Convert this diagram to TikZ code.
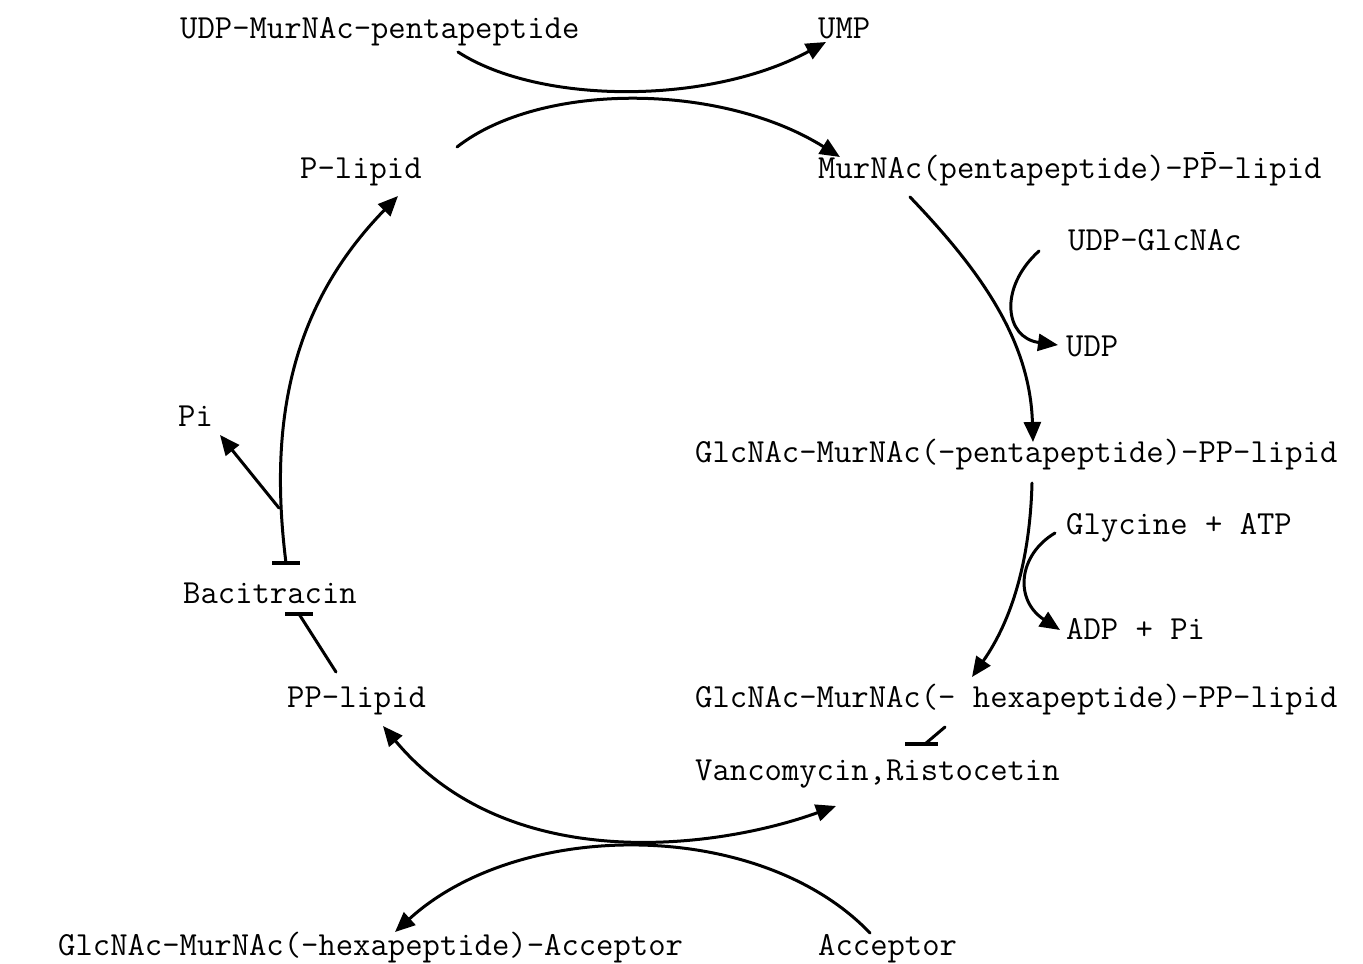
\documentclass[tikz,border=0pt]{standalone}
\usepackage{fontspec}
\usetikzlibrary{arrows.meta,calc}
\newcommand{\barP}{\rlap{\kern0.13em\raisebox{0.72em}{\rule{0.28em}{0.06em}}}P}
\begin{document}
\begin{tikzpicture}[x=1pt,y=-1pt,
  lbl/.style={anchor=base west,inner sep=0pt,font=\fontsize{33.7}{36}\selectfont\ttfamily},
  ln/.style={line width=3pt,line cap=round},
  rx/.style={ln,-{Triangle[length=20pt,width=17pt]}},
  rxx/.style={ln,{Triangle[length=20pt,width=17pt]}-{Triangle[length=20pt,width=17pt]}},
  barline/.style={line width=3.4pt}
]
\useasboundingbox (0,0) rectangle (1363,964);
% labels
\node[lbl] (udpm)  at (180,38)  {UDP-MurNAc-pentapeptide};
\node[lbl] (ump)   at (818,38)  {UMP};
\node[lbl] (plip)  at (300,178) {P-lipid};
\node[lbl] (murpp) at (818,178) {MurNAc(pentapeptide)-P\barP-lipid};
\node[lbl] (udpg)  at (1068,250) {UDP-GlcNAc};
\node[lbl] (udp)   at (1066,356) {UDP};
\node[lbl] (penta) at (695,462) {GlcNAc-MurNAc(-pentapeptide)-PP-lipid};
\node[lbl] (gly)   at (1066,534) {Glycine + ATP};
\node[lbl] (adp)   at (1066,639) {ADP + Pi};
\node[lbl] (hexa)  at (695,707) {GlcNAc-MurNAc(- hexapeptide)-PP-lipid};
\node[lbl] (vanc)  at (695,780) {Vancomycin,Ristocetin};
\node[lbl] (pi)    at (178,426) {Pi};
\node[lbl] (baci)  at (183,603) {Bacitracin};
\node[lbl] (pplip) at (287,707) {PP-lipid};
\node[lbl] (acc)   at (58,955)  {GlcNAc-MurNAc(-hexapeptide)-Acceptor};
\node[lbl] (accp)  at (818,955) {Acceptor};

% end points
\coordinate (a1s) at (458,52);   \coordinate (a1e) at (826,42);
\coordinate (a2s) at (457,147);  \coordinate (a2e) at (840,157);
\coordinate (a3s) at (910,197);  \coordinate (a3e) at (1033,442);
\coordinate (a4s) at (1039,251); \coordinate (a4e) at (1058,345);
\coordinate (a5s) at (1032,483); \coordinate (a5e) at (972,677);
\coordinate (a6s) at (1055,533); \coordinate (a6e) at (1060,630);
\coordinate (vs)  at (945,727);  \coordinate (ve)  at (925,744);
\coordinate (b1r) at (836,806);  \coordinate (b1l) at (383,726);
\coordinate (b2s) at (870,933);  \coordinate (b2e) at (395,932);
\coordinate (lbar) at (286,563); \coordinate (lend) at (398,196);
\coordinate (br)  at (279,508);  \coordinate (pie) at (220,435);
\coordinate (pps) at (336,672);  \coordinate (ppe) at (299,614);

% top reactions
\draw[rx] (a1s) .. controls (540,105) and (710,105) .. (a1e);
\draw[rx] (a2s) .. controls (540,82) and (720,82) .. (a2e);
% right side
\draw[rx] (a3s) .. controls (980,270) and (1030,340) .. (a3e);
\draw[rx] (a4s) .. controls (998,288) and (1005,338) .. (a4e);
\draw[rx] (a5s) .. controls (1030,560) and (1012,620) .. (a5e);
\draw[rx] (a6s) .. controls (1018,555) and (1014,600) .. (a6e);
% vancomycin inhibition
\draw[ln] (vs) -- (ve);
\draw[barline] ($(ve)+(-20,0)$) -- ($(ve)+(13,0)$);
% bottom reactions
\draw[rxx] (b1l) .. controls (510,878) and (720,848) .. (b1r);
\draw[rx] (b2s) .. controls (760,818) and (520,818) .. (b2e);
% left side
\draw[rx] (lbar) .. controls (268,420) and (292,305) .. (lend);
\draw[rx] (br) -- (pie);
\draw[barline] ($(lbar)+(-14,0)$) -- ($(lbar)+(14,0)$);
\draw[ln] (pps) -- (ppe);
\draw[barline] ($(ppe)+(-14,0)$) -- ($(ppe)+(14,0)$);
\end{tikzpicture}
\end{document}
